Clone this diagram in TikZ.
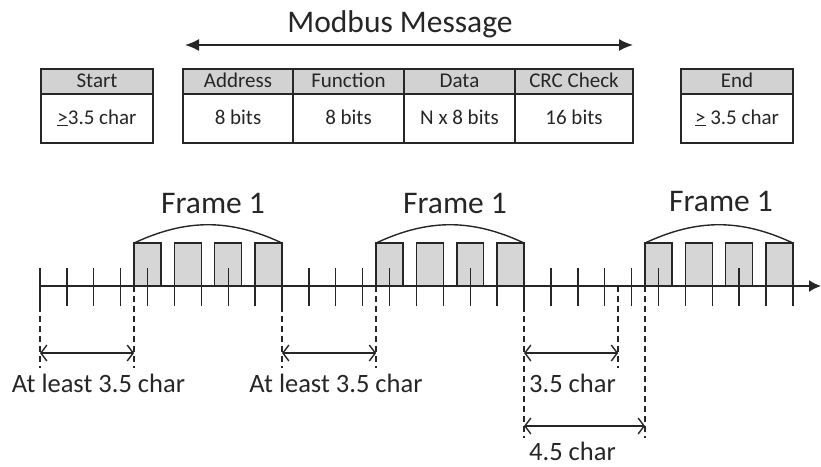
\documentclass[tikz,border=0pt]{standalone}
\usepackage{fontspec}
\setmainfont{Carlito}
\usetikzlibrary{arrows.meta}
\definecolor{ink}{HTML}{262626}
\definecolor{hdr}{HTML}{D2D2D2}
\definecolor{bitfill}{HTML}{D6D6D6}
\tikzset{
  cellbox/.style={draw=ink, line width=1.4pt, inner sep=0pt, text=ink,
    font=\fontsize{21}{24}\selectfont, text height=14pt, text depth=3pt},
  hcell/.style={cellbox, fill=hdr, minimum height=25pt},
  bcell/.style={cellbox, minimum height=49pt},
  tickline/.style={draw=ink, line width=1.4pt},
  guide/.style={draw=ink, line width=1.4pt, dash pattern=on 6pt off 4pt},
  dimarrow/.style={draw=ink, line width=1.4pt, {Straight Barb[length=6pt,width=16pt]}-{Straight Barb[length=6pt,width=16pt]}},
  biglabel/.style={text=ink, font=\fontsize{31.5}{34}\selectfont, inner sep=0pt},
  dimlabel/.style={text=ink, font=\fontsize{26.5}{29}\selectfont, inner sep=0pt},
}
\begin{document}
\begin{tikzpicture}[x=1pt,y=-1pt]
\useasboundingbox (0,0) rectangle (821,466);

% ---- title and message arrow
\node[biglabel, anchor=base] (title) at (400,32) {Modbus Message};
\coordinate (mL) at (185,45);
\coordinate (mR) at (633,45);
\draw[ink, line width=1.6pt, {Latex[length=14pt,width=12pt]}-{Latex[length=14pt,width=12pt]}] (mL) -- (mR);

% ---- start box
\node[hcell, minimum width=112pt] (starth) at (97,81.5) {Start};
\node[bcell, minimum width=112pt] (startb) at (97,118.5) {\underline{>}3.5 char};

% ---- message table
\node[hcell, minimum width=110pt] (addrh) at (238,81.5) {Address};
\node[bcell, minimum width=110pt] (addrb) at (238,118.5) {8 bits};
\node[hcell, minimum width=111pt] (funch) at (348.5,81.5) {Function};
\node[bcell, minimum width=111pt] (funcb) at (348.5,118.5) {8 bits};
\node[hcell, minimum width=111pt] (datah) at (459.5,81.5) {Data};
\node[bcell, minimum width=111pt] (datab) at (459.5,118.5) {N x 8 bits};
\node[hcell, minimum width=118pt] (crch) at (574,81.5) {CRC Check};
\node[bcell, minimum width=118pt] (crcb) at (574,118.5) {16 bits};

% ---- end box
\node[hcell, minimum width=112pt] (endh) at (737,81.5) {End};
\node[bcell, minimum width=112pt] (endb) at (737,118.5) {\underline{>} 3.5 char};

% ---- timeline
\def\tp{26.89}
\def\ox{40}
% bit boxes of the three frames
\foreach \s in {3.5,12.5,22.5}{
  \foreach \o in {0,1.5,3,4.5}{
    \fill[bitfill] ({\ox+(\s+\o)*\tp},243) rectangle ({\ox+(\s+\o+1)*\tp},286);
  }
}
% ticks
\foreach \k in {0,...,28}{
  \draw[tickline] ({\ox+\k*\tp},268) -- ({\ox+\k*\tp},306);
}
% box outlines
\foreach \s in {3.5,12.5,22.5}{
  \foreach \o in {0,1.5,3,4.5}{
    \draw[ink, line width=1.4pt] ({\ox+(\s+\o)*\tp},286) -- ({\ox+(\s+\o)*\tp},243) -- ({\ox+(\s+\o+1)*\tp},243) -- ({\ox+(\s+\o+1)*\tp},286);
  }
}
% axis
\coordinate (ax0) at (40,286);
\coordinate (ax1) at (821,286);
\draw[ink, line width=1.6pt, -{Latex[length=12pt,width=12pt]}] (ax0) -- (ax1);

% frame arcs and labels
\coordinate (f1a) at ({\ox+3.5*\tp},243);  \coordinate (f1b) at ({\ox+9*\tp},243);
\coordinate (f2a) at ({\ox+12.5*\tp},243); \coordinate (f2b) at ({\ox+18*\tp},243);
\coordinate (f3a) at ({\ox+22.5*\tp},243); \coordinate (f3b) at ({\ox+28*\tp},243);
\draw[ink, line width=1.4pt] (f1a) to[bend left=25] (f1b);
\draw[ink, line width=1.4pt] (f2a) to[bend left=25] (f2b);
\draw[ink, line width=1.4pt] (f3a) to[bend left=25] (f3b);
\node[biglabel, anchor=base] (fr1) at (213,213) {Frame 1};
\node[biglabel, anchor=base] (fr2) at (455,213) {Frame 1};
\node[biglabel, anchor=base] (fr3) at (721,211) {Frame 1};

% guide lines
\coordinate (g0t) at ({\ox+0*\tp},286);    \coordinate (g0b) at ({\ox+0*\tp},368);
\coordinate (g1t) at ({\ox+3.5*\tp},286);  \coordinate (g1b) at ({\ox+3.5*\tp},368);
\coordinate (g2t) at ({\ox+9*\tp},286);    \coordinate (g2b) at ({\ox+9*\tp},368);
\coordinate (g3t) at ({\ox+12.5*\tp},286); \coordinate (g3b) at ({\ox+12.5*\tp},368);
\coordinate (g4t) at ({\ox+18*\tp},286);   \coordinate (g4b) at ({\ox+18*\tp},438);
\coordinate (g5t) at ({\ox+21.5*\tp},286); \coordinate (g5b) at ({\ox+21.5*\tp},368);
\coordinate (g6t) at ({\ox+22.5*\tp},286); \coordinate (g6b) at ({\ox+22.5*\tp},438);
\foreach \g in {0,...,6}{ \draw[guide] (g\g t) -- (g\g b); }

% dimension arrow end points
\coordinate (d0) at ({\ox+0*\tp},353);
\coordinate (d1) at ({\ox+3.5*\tp},353);
\coordinate (d2) at ({\ox+9*\tp},353);
\coordinate (d3) at ({\ox+12.5*\tp},353);
\coordinate (d4) at ({\ox+18*\tp},353);
\coordinate (d5) at ({\ox+21.5*\tp},353);
\coordinate (e4) at ({\ox+18*\tp},426);
\coordinate (e6) at ({\ox+22.5*\tp},426);
\draw[dimarrow] (d0) -- (d1);
\draw[dimarrow] (d2) -- (d3);
\draw[dimarrow] (d4) -- (d5);
\draw[dimarrow] (e4) -- (e6);

% dimension labels
\node[dimlabel, anchor=base] (l1) at (98.5,392) {At least 3.5 char};
\node[dimlabel, anchor=base] (l2) at (336,392) {At least 3.5 char};
\node[dimlabel, anchor=base west] (l3) at (529,392) {3.5 char};
\node[dimlabel, anchor=base west] (l4) at (529,460) {4.5 char};
\end{tikzpicture}
\end{document}
